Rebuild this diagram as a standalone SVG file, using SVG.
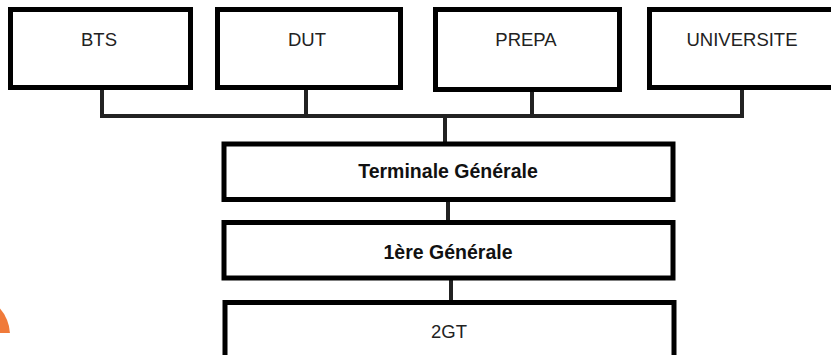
<svg xmlns="http://www.w3.org/2000/svg" width="831" height="355" viewBox="0 0 831 355">
<style>
.box{fill:#fff;stroke:#000;stroke-width:5}
.lbl{font-family:"Liberation Sans",Arial,sans-serif;font-size:18.5px;fill:#222;text-anchor:middle}
.bold{font-weight:bold;font-size:19.5px;fill:#111}
.con{stroke:#222;stroke-width:4;fill:none}
</style>
<defs><clipPath id="oc"><rect x="0" y="0" width="831" height="333"/></clipPath></defs>
<rect width="831" height="355" fill="#fff"/>
<circle cx="-30" cy="335" r="40" fill="#f07a3a" clip-path="url(#oc)"/>
<g id="connectors">
<path class="con" d="M102 90V116M306 90V116M532 90V116M742 90V116M100 116H744M445 116V142"/>
<path class="con" d="M448 202V221"/>
<path class="con" d="M451 280V301"/>
</g>
<g id="bts"><rect class="box" x="10.5" y="9.5" width="180" height="78"/><text class="lbl" x="99" y="46">BTS</text></g>
<g id="dut"><rect class="box" x="217.5" y="9.5" width="183" height="78"/><text class="lbl" x="307" y="46">DUT</text></g>
<g id="prepa"><rect class="box" x="435.5" y="9.5" width="184" height="80"/><text class="lbl" x="526" y="46">PREPA</text></g>
<g id="universite"><rect class="box" x="649.5" y="9.5" width="200" height="78"/><text class="lbl" x="742" y="46">UNIVERSITE</text></g>
<g id="terminale"><rect class="box" x="224" y="144" width="449" height="55.5"/><text class="lbl bold" x="448" y="178">Terminale Générale</text></g>
<g id="premiere"><rect class="box" x="224" y="222.5" width="449" height="55.5"/><text class="lbl bold" x="448" y="259">1ère Générale</text></g>
<g id="seconde"><rect class="box" x="225" y="302.5" width="449" height="70"/><text class="lbl" x="449" y="338">2GT</text></g>
</svg>
